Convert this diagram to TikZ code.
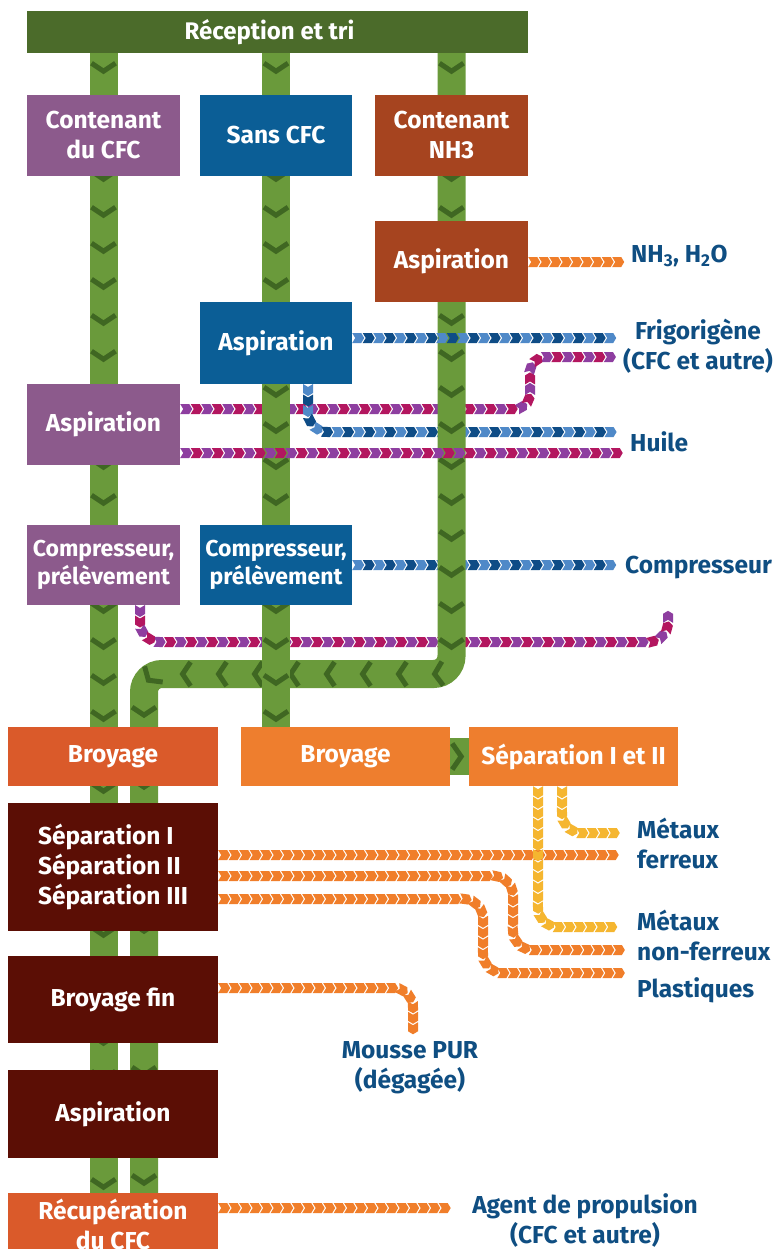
\documentclass[tikz,border=0pt]{standalone}
\usepackage{fontspec}
\setmainfont{Fira Sans}
\usetikzlibrary{decorations.markings}

\definecolor{barGreen}{HTML}{4B6B2A}
\definecolor{pipeGreen}{HTML}{6A9A3B}
\definecolor{pipeDark}{HTML}{3F6722}
\definecolor{cfcPurple}{HTML}{8C5A8C}
\definecolor{sansBlue}{HTML}{0B5E96}
\definecolor{nhRust}{HTML}{A6441F}
\definecolor{broyRed}{HTML}{DA5A2A}
\definecolor{broyOrange}{HTML}{EE7E2E}
\definecolor{boxMaroon}{HTML}{5B0E05}
\definecolor{lblBlue}{HTML}{0F4E82}
\definecolor{flowLB}{HTML}{4F89C8}
\definecolor{flowDB}{HTML}{0E4C86}
\definecolor{flowViolet}{HTML}{8E3EA0}
\definecolor{flowMagenta}{HTML}{B3165F}
\definecolor{flowOrange}{HTML}{F07E2A}
\definecolor{flowYellow}{HTML}{F5B630}

\pgfdeclarelayer{bg}
\pgfdeclarelayer{flowsback}
\pgfdeclarelayer{pipes}
\pgfdeclarelayer{flowsfront}
\pgfsetlayers{bg,flowsback,pipes,flowsfront,main}

% one small arrow-shaped link of a flow line
\newcommand\chevfill[1]{\fill[#1, sharp corners] (-6,-5) -- (3,-5) -- (6,0) -- (3,5) -- (-6,5) -- (-3,0) -- cycle;}

\tikzset{
  box/.style={rectangle, inner sep=0pt, text=white, align=center,
    font=\fontsize{24.5}{30}\selectfont\bfseries},
  smallbox/.style={box, font=\fontsize{23}{28}\selectfont\bfseries},
  lbl/.style={inner sep=0pt, text=lblBlue,
    font=\fontsize{24.5}{30}\selectfont\bfseries},
  pipe/.style={draw=pipeGreen, line width=28pt,
    postaction={decorate, decoration={markings,
      mark=between positions 18pt and 1 step 36pt with
        {\draw[pipeDark, line width=5pt, line cap=butt, sharp corners] (-8,-12) -- (0,0) -- (-8,12);}}}},
  flow/.style 2 args={
    postaction={decorate, decoration={markings,
      mark=between positions 6pt and 1 step 21pt with {\chevfill{#1}}}},
    postaction={decorate, decoration={markings,
      mark=between positions 16.5pt and 1 step 21pt with {\chevfill{#2}}}}},
  bluefl/.style={flow={flowLB}{flowDB}},
  purplefl/.style={flow={flowViolet}{flowMagenta}},
  orangefl/.style={flow={flowOrange}{flowOrange}},
  yellowfl/.style={flow={flowYellow}{flowYellow}},
}

\begin{document}
\begin{tikzpicture}[x=1pt, y=-1pt]
\useasboundingbox (0,0) rectangle (776,1249);
\begin{pgfonlayer}{bg}
  \fill[white] (0,0) rectangle (776,1249);
\end{pgfonlayer}

% ---------- process boxes ----------
\node[box, fill=barGreen, minimum width=501pt, minimum height=42pt,
      font=\fontsize{24}{28}\selectfont\bfseries] (recv) at (277.5,32) {Réception et tri\hspace*{16pt}};

\node[box, fill=cfcPurple, minimum width=153pt, minimum height=81pt] (cfc) at (103.5,135.5) {Contenant\\du CFC};
\node[box, fill=sansBlue, minimum width=152pt, minimum height=81pt] (sans) at (276,135.5) {Sans CFC};
\node[box, fill=nhRust, minimum width=153pt, minimum height=81pt] (nh3) at (451.5,135.5) {Contenant\\NH3};

\node[box, fill=nhRust, minimum width=153pt, minimum height=81pt] (aspnh) at (451.5,261.5) {Aspiration};
\node[box, fill=sansBlue, minimum width=152pt, minimum height=82pt] (aspsans) at (276,343) {Aspiration};
\node[box, fill=cfcPurple, minimum width=153pt, minimum height=81pt] (aspcfc) at (103.5,424.5) {Aspiration};

\node[smallbox, fill=cfcPurple, minimum width=153pt, minimum height=80pt] (compcfc) at (103.5,565) {Compresseur,\\prélèvement};
\node[smallbox, fill=sansBlue, minimum width=152pt, minimum height=80pt] (compsans) at (276,565) {Compresseur,\\prélèvement};

\node[box, fill=broyRed, minimum width=210pt, minimum height=59pt] (broyA) at (113,756.5) {Broyage};
\node[box, fill=broyOrange, minimum width=209pt, minimum height=59pt] (broyB) at (345.5,756.5) {Broyage};
\node[box, fill=broyOrange, minimum width=209pt, minimum height=59pt] (sepB) at (573.5,756.5) {Séparation I et II};

\node[box, fill=boxMaroon, minimum width=210pt, minimum height=128pt, align=left] (sepA) at (113,867) {Séparation I\\Séparation II\\Séparation III};
\node[box, fill=boxMaroon, minimum width=210pt, minimum height=87pt] (fin) at (113,999.5) {Broyage fin};
\node[box, fill=boxMaroon, minimum width=210pt, minimum height=88pt] (aspfin) at (113,1114) {Aspiration};
\node[box, fill=broyRed, minimum width=210pt, minimum height=62pt] (recup) at (113,1224) {Récupération\\du CFC};

% ---------- output labels ----------
\node[lbl, anchor=west] (lnh) at (631,256) {NH\textsubscript{3}, H\textsubscript{2}O};
\node[lbl, align=center] (lfrig) at (698,346) {Frigorigène\\(CFC et autre)};
\node[lbl, anchor=west] (lhuile) at (630,442) {Huile};
\node[lbl, anchor=west] (lcomp) at (625,568) {Compresseur};
\node[lbl, align=left, anchor=west] (lfer) at (637,843) {Métaux\\ferreux};
\node[lbl, align=left, anchor=west] (lnfer) at (637,935) {Métaux\\non-ferreux};
\node[lbl, anchor=west] (lplast) at (637,990) {Plastiques};
\node[lbl, align=center] (lpur) at (410,1068) {Mousse PUR\\(dégagée)};
\node[lbl, align=center] (lagent) at (585,1220) {Agent de propulsion\\(CFC et autre)};

% free ends of the flow lines
\coordinate (bottom) at (0,1249);
\coordinate (turn) at (0,674);
\coordinate (eNH) at (620,262);
\coordinate (eFrigA) at (620,338);
\coordinate (eFrigB) at (620,357);
\coordinate (eOilA) at (620,432);
\coordinate (eOilB) at (620,453);
\coordinate (eComp) at (618,565);
\coordinate (eHook) at (668,612);
\coordinate (eFer) at (620,855);
\coordinate (eNFer) at (620,950);
\coordinate (ePlast) at (620,973);
\coordinate (eYelA) at (620,833);
\coordinate (eYelB) at (620,927);
\coordinate (ePur) at (413,1030);
\coordinate (eAgent) at (450,1208);

% ---------- green pipes ----------
\begin{pgfonlayer}{pipes}
  \draw[pipe, rounded corners=18pt] (recv.south -| nh3.center) -- (nh3.center |- turn)
        -- (144,674) -- (144,1249);
  \draw[pipe] (recv.south -| cfc.center) -- (cfc.center |- bottom);
  \draw[pipe] (recv.south -| sans.center) -- (broyB.north -| sans.center);
  \draw[pipeGreen, line width=37pt] (broyB.east) -- (sepB.west);
  \draw[pipeDark, line width=5pt] ([xshift=2pt,yshift=13pt]broyB.east) -- ([xshift=11pt]broyB.east)
        -- ([xshift=2pt,yshift=-13pt]broyB.east);
\end{pgfonlayer}

% ---------- flow lines passing under the pipes ----------
\begin{pgfonlayer}{flowsback}
  \path[orangefl] (aspnh.east |- eNH) -- (eNH);
  \path[purplefl, rounded corners=16pt] (aspcfc.east |- 0,409) -- (530,409) -- (530,357) -- (eFrigB);
  \path[bluefl, rounded corners=20pt] (308,384) -- (308,432) -- (eOilA);
  \path[bluefl] (compsans.east |- eComp) -- (eComp);
  \path[purplefl, rounded corners=20pt] (140,605) -- (140,642) -- (668,642) -- (eHook);
\end{pgfonlayer}

% ---------- flow lines passing over the pipes ----------
\begin{pgfonlayer}{flowsfront}
  \path[bluefl] (aspsans.east |- eFrigA) -- (eFrigA);
  \path[purplefl] (aspcfc.east |- eOilB) -- (eOilB);
\end{pgfonlayer}

% ---------- shredding outputs ----------
\path[orangefl] (sepA.east |- eFer) -- (eFer);
\path[orangefl, rounded corners=20pt] (sepA.east |- 0,876) -- (513,876) -- (513,950) -- (eNFer);
\path[orangefl, rounded corners=20pt] (sepA.east |- 0,899) -- (483,899) -- (483,973) -- (ePlast);
\path[yellowfl, rounded corners=20pt] (sepB.south -| 562,0) -- (562,833) -- (eYelA);
\path[yellowfl, rounded corners=20pt] (sepB.south -| 538,0) -- (538,927) -- (eYelB);
\path[orangefl, rounded corners=20pt] (fin.east |- 0,988) -- (413,988) -- (ePur);
\path[orangefl] (recup.east |- eAgent) -- (eAgent);
\end{tikzpicture}
\end{document}
